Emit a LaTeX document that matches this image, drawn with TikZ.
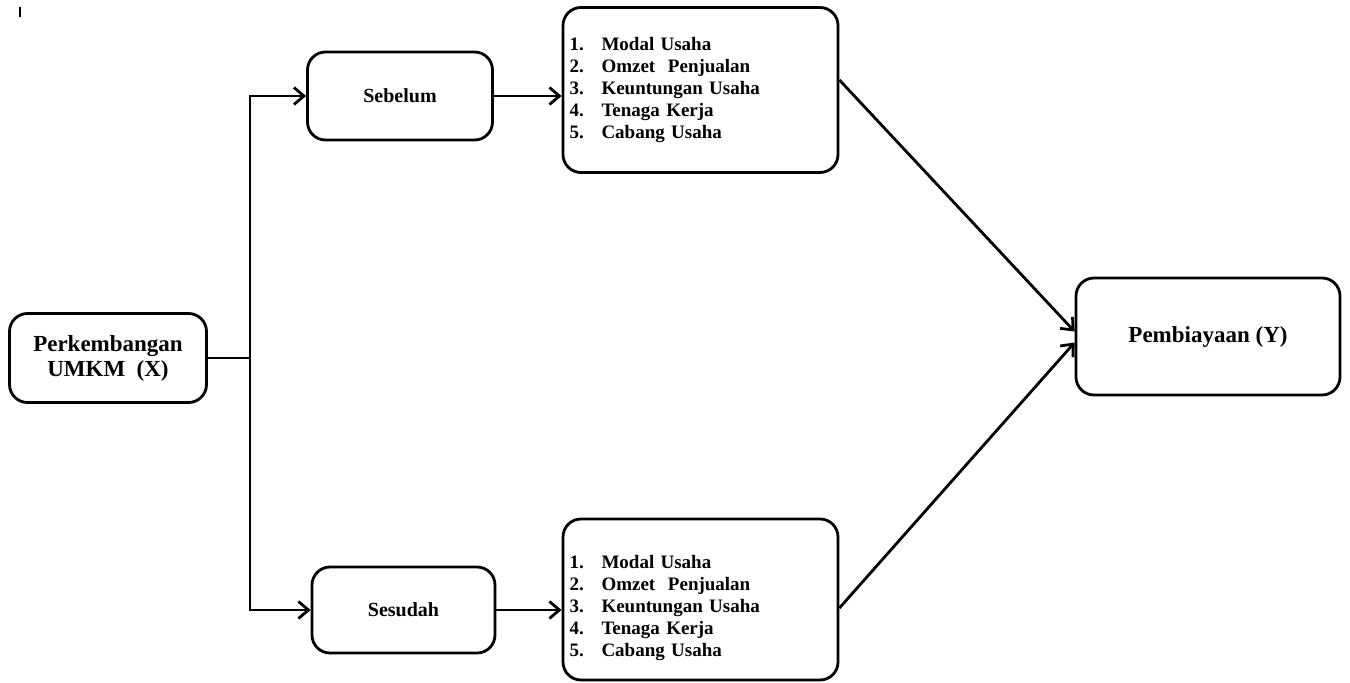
\documentclass[tikz,border=0pt]{standalone}
\usepackage{fontspec}
\setmainfont{LiberationSerif}[Extension = .ttf, UprightFont = *-Regular, BoldFont = *-Bold, ItalicFont = *-Italic, BoldItalicFont = *-BoldItalic]
\usetikzlibrary{arrows.meta}
\tikzset{
	kotak/.style = {draw, line width = 2.8pt, rounded corners = 18pt, align = center, inner sep = 0pt, font = \bfseries\fontsize{20}{24}\selectfont},
	besar/.style = {kotak, font = \bfseries\fontsize{23}{25}\selectfont},
	daftar/.style = {kotak, align = left, text width = 262pt, font = \bfseries\fontsize{19}{22}\selectfont},
	garis/.style = {line width = 2.8pt},
	panah/.style = {garis, -{Straight Barb[length = 10pt, width = 17pt, line width = 2.8pt]}}
}
\newcommand{\butir}[2]{\makebox[32pt][l]{#1.}#2}
\begin{document}
\begin{tikzpicture}[x = 1pt, y = -1pt]
	\useasboundingbox (0,0) rectangle (1350,683);
	\draw [garis] (20,7) -- (20,17);
	\node [besar, minimum width = 197pt, minimum height = 89pt] (umkm) at (108,358) {Perkembangan\\UMKM\ \ (X)};
	\node [kotak, minimum width = 185pt, minimum height = 88pt] (sebelum) at (400,96) {Sebelum};
	\node [kotak, minimum width = 183pt, minimum height = 86pt] (sesudah) at (403.5,610) {Sesudah};
	\node [daftar, minimum width = 275pt, minimum height = 165pt] (listA) at (700.5,90) {\butir{1}{Modal Usaha}\\\butir{2}{Omzet\ \ Penjualan}\\\butir{3}{Keuntungan Usaha}\\\butir{4}{Tenaga Kerja}\\\butir{5}{Cabang Usaha}};
	\node [daftar, minimum width = 275pt, minimum height = 161pt] (listB) at (700.5,599.5) {\rule{0pt}{31pt}\butir{1}{Modal Usaha}\\\butir{2}{Omzet\ \ Penjualan}\\\butir{3}{Keuntungan Usaha}\\\butir{4}{Tenaga Kerja}\\\butir{5}{Cabang Usaha}};
	\node [besar, minimum width = 264pt, minimum height = 117pt] (biaya) at (1208,336.5) {Pembiayaan (Y)};
	\coordinate (cabang) at (250,358);
	\draw [garis] (umkm.east) -- (cabang);
	\draw [panah] (cabang) |- (sebelum.west);
	\draw [panah] (cabang) |- (sesudah.west);
	\draw [panah] (sebelum.east) -- (sebelum.east -| listA.west);
	\draw [panah] (sesudah.east) -- (sesudah.east -| listB.west);
	\draw [panah] ([yshift = 10pt]listA.east) -- ([yshift = 5pt]biaya.west);
	\draw [panah] ([yshift = -8.5pt]listB.east) -- ([yshift = -6pt]biaya.west);
\end{tikzpicture}
\end{document}
